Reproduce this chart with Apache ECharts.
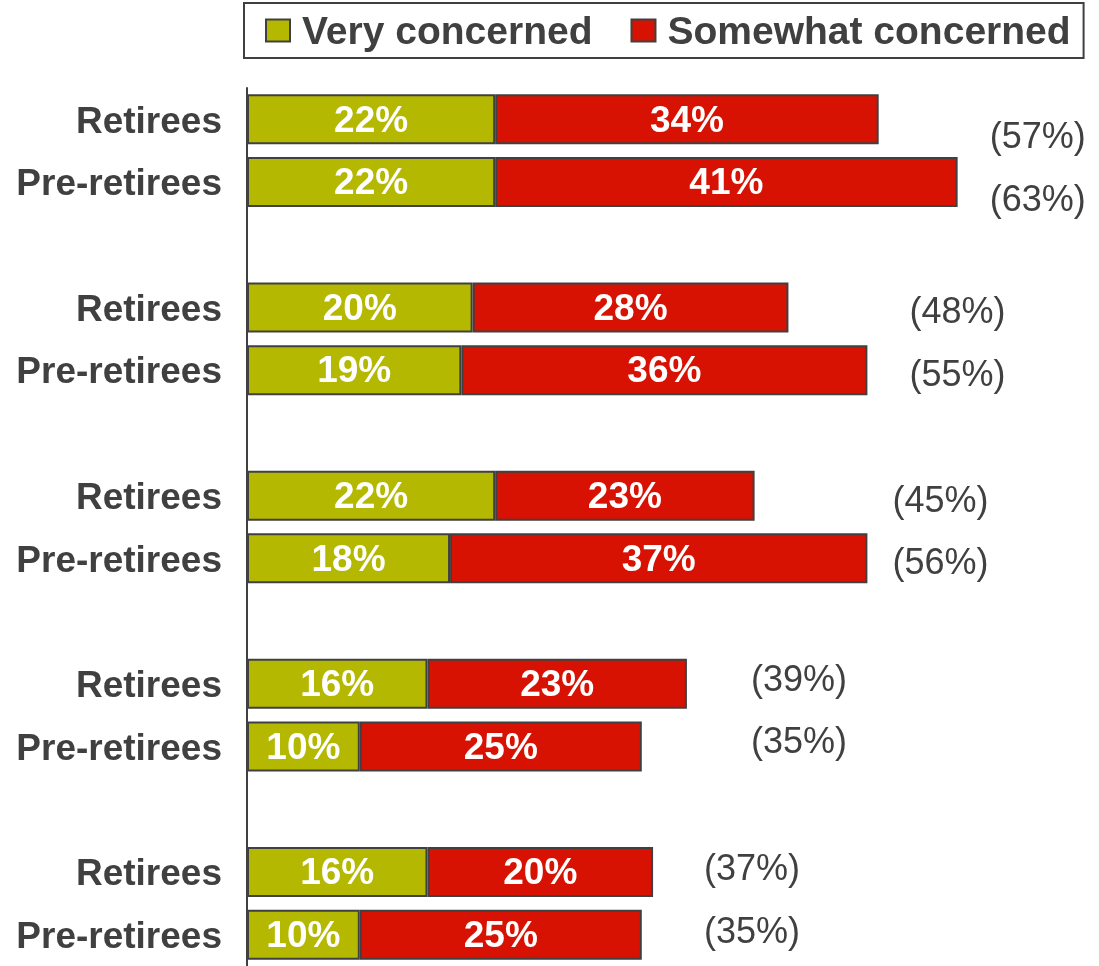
<!DOCTYPE html>
<html>
<head>
<meta charset="utf-8">
<style>
  html, body { margin: 0; padding: 0; background: #fff; }
  #chart { width: 1099px; height: 966px; }
</style>
<script src="https://cdn.jsdelivr.net/npm/echarts@6/dist/echarts.min.js"></script>
</head>
<body>
<div id="chart"></div>
<script>
// chart data
const groupLabels = ['Retirees', 'Pre-retirees']
const veryConcerned = [22, 22, 20, 19, 22, 18, 16, 10, 16, 10]
const somewhatConcerned = [34, 41, 28, 36, 23, 37, 23, 25, 20, 25]
const totals = [57, 63, 48, 55, 45, 56, 39, 35, 37, 35]

// label nudges for the totals, per group (pixels)
const totalDx = [32, 42, 25, 64, 51]
const totalDy = [19, 6, 6, -3, -2]

const FONT = "'Liberation Sans', Arial, sans-serif"
const TEXT = '#404040'

// category list with an empty slot between groups
let cats = [], very = [], somewhat = [], slotOf = []
veryConcerned.forEach((v, i) => {
  slotOf.push(cats.length)
  cats.push(groupLabels[i % 2])
  very.push(v)
  somewhat.push(somewhatConcerned[i])
  if (i % 2 === 1 && i < veryConcerned.length - 1) {
    cats.push('')
    very.push('-')
    somewhat.push('-')
  }
})

// totals placed after the longest bar of each group
let totalData = totals.map((t, i) => {
  let g = Math.floor(i / 2)
  let a = veryConcerned[2 * g] + somewhatConcerned[2 * g]
  let b = veryConcerned[2 * g + 1] + somewhatConcerned[2 * g + 1]
  return [Math.max(a, b), slotOf[i], t, g]
})

let myChart = echarts.init(document.getElementById('chart'))

let barLabel = {
  show: true,
  position: 'inside',
  offset: [0, 2],
  color: '#fff',
  fontSize: 37,
  fontWeight: 'bold',
  fontFamily: FONT,
  formatter: '{c}%'
}

let boldText = {
  color: TEXT,
  fontWeight: 'bold',
  fontFamily: FONT
}

let option = {
  animation: false,
  legend: {
    left: 244,
    top: 3,
    padding: [5, 13, 5, 21],
    itemGap: 38,
    itemWidth: 24,
    itemHeight: 22,
    borderColor: TEXT,
    borderWidth: 2,
    selectedMode: false,
    icon: 'rect',
    formatter: '{a|{name}}',
    textStyle: {
      padding: [0, 0, 0, 7],
      rich: {
        a: Object.assign({ fontSize: 39, lineHeight: 38, padding: [6, 0, 0, 0] }, boldText)
      }
    },
    data: ['Very concerned', 'Somewhat concerned']
  },
  grid: {
    left: 247,
    top: 88,
    right: 6,
    height: 883
  },
  xAxis: {
    type: 'value',
    min: 0,
    max: 75,
    show: false
  },
  yAxis: {
    type: 'category',
    inverse: true,
    data: cats,
    axisLine: { show: true, lineStyle: { color: TEXT, width: 2 } },
    axisTick: { show: false },
    axisLabel: {
      margin: 25,
      formatter: '{a|{value}}',
      rich: {
        a: Object.assign({ fontSize: 37, padding: [6, 0, 0, 0] }, boldText)
      }
    }
  },
  series: [
    {
      name: 'Very concerned',
      type: 'bar',
      stack: 'all',
      barWidth: 50,
      data: very,
      itemStyle: { color: '#b4b800', borderColor: TEXT, borderWidth: 2 },
      label: barLabel
    },
    {
      name: 'Somewhat concerned',
      type: 'bar',
      stack: 'all',
      barWidth: 50,
      data: somewhat,
      itemStyle: { color: '#d81202', borderColor: TEXT, borderWidth: 2 },
      label: barLabel
    },
    {
      type: 'custom',
      data: totalData,
      encode: { x: 0, y: 1 },
      renderItem: function (params, api) {
        let p = api.coord([api.value(0), api.value(1)])
        let g = api.value(3)
        return {
          type: 'text',
          x: p[0] + totalDx[g],
          y: p[1] + totalDy[g],
          style: {
            text: '(' + api.value(2) + '%)',
            fill: TEXT,
            fontSize: 36,
            fontFamily: FONT,
            align: 'left',
            verticalAlign: 'middle'
          }
        }
      }
    }
  ]
}

myChart.setOption(option)
</script>
</body>
</html>
